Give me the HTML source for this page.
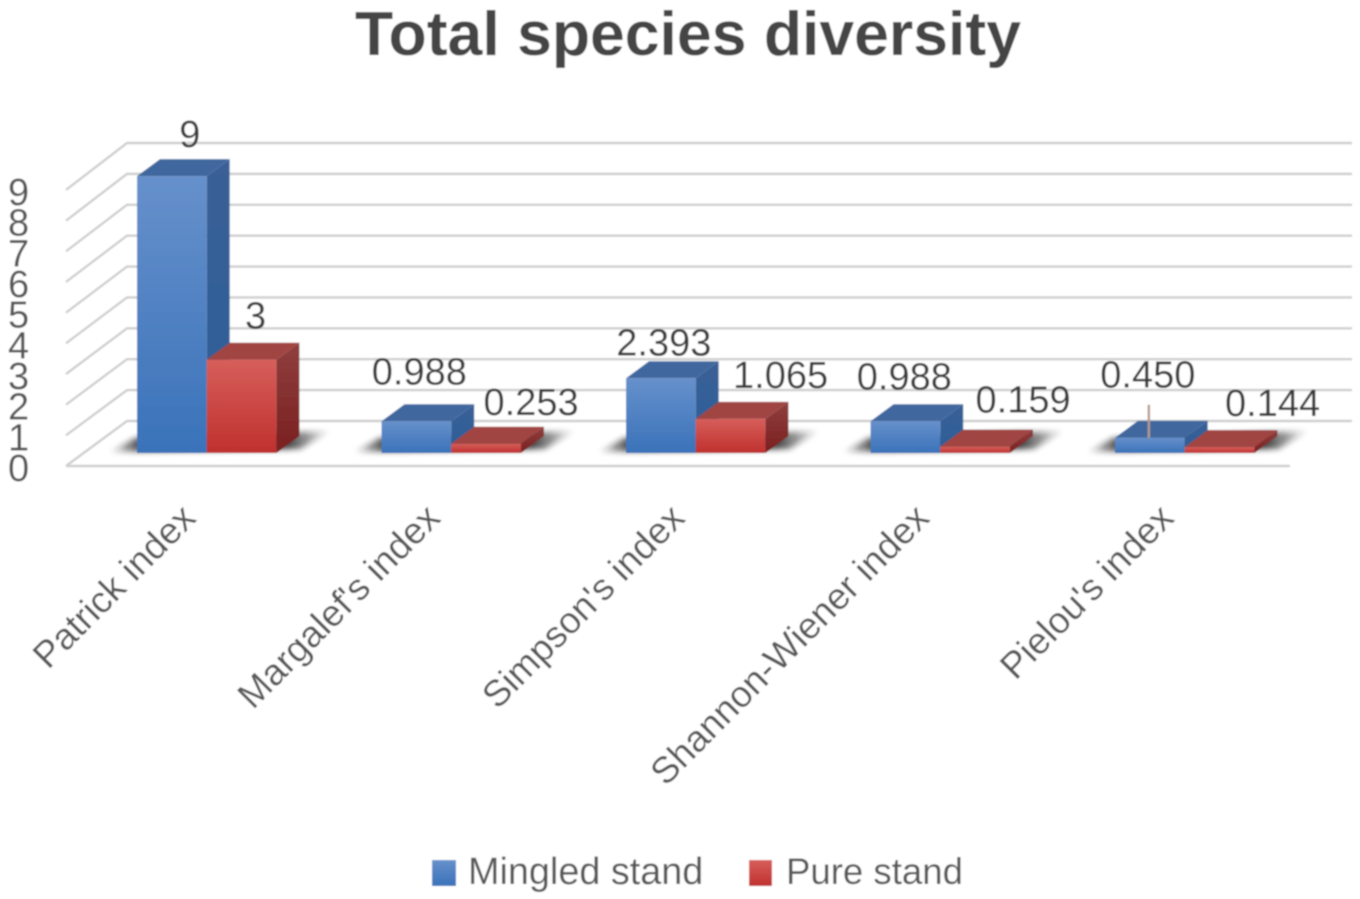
<!DOCTYPE html>
<html lang="en">
<head>
<meta charset="utf-8">
<title>Total species diversity</title>
<style>
html,body{margin:0;padding:0;background:#fff;width:1360px;height:899px;overflow:hidden}
svg{display:block;font-family:"Liberation Sans",sans-serif}
</style>
</head>
<body>
<svg id="chart" xmlns="http://www.w3.org/2000/svg" width="1360" height="899" viewBox="0 0 1360 899">
  <defs>
    <linearGradient id="blueFront" x1="0" y1="0" x2="0" y2="1"><stop offset="0" stop-color="#6690cb"/><stop offset="1" stop-color="#3a72b9"/></linearGradient>
    <linearGradient id="blueSide" x1="0" y1="0" x2="0" y2="1"><stop offset="0" stop-color="#3a6197"/><stop offset="1" stop-color="#2a5c96"/></linearGradient>
    <linearGradient id="redFront" x1="0" y1="0" x2="0" y2="1"><stop offset="0" stop-color="#d65e5a"/><stop offset="1" stop-color="#bf302e"/></linearGradient>
    <linearGradient id="redSide" x1="0" y1="0" x2="0" y2="1"><stop offset="0" stop-color="#8f3f3e"/><stop offset="1" stop-color="#7a1f20"/></linearGradient>
    <linearGradient id="shadowFill" x1="0" y1="0" x2="1" y2="0">
      <stop offset="0" stop-color="#1c1c1c" stop-opacity="0"/>
      <stop offset="0.13" stop-color="#1c1c1c" stop-opacity="0.75"/>
      <stop offset="0.8" stop-color="#1c1c1c" stop-opacity="0.85"/>
      <stop offset="1" stop-color="#1c1c1c" stop-opacity="0"/>
    </linearGradient>
    <filter id="shadowBlur" x="-30%" y="-100%" width="160%" height="300%"><feGaussianBlur stdDeviation="3"/></filter>
    <filter id="soft" x="0" y="0" width="100%" height="100%"><feGaussianBlur stdDeviation="0.7"/></filter>
  </defs>
  <g id="root" filter="url(#soft)">
    <rect x="0" y="0" width="1360" height="899" fill="#ffffff"/>
    <text x="355" y="55" font-size="62" font-weight="700" fill="#444444" textLength="666" lengthAdjust="spacingAndGlyphs">Total species diversity</text>
    <g id="grid"></g>
    <g id="ticks"></g>
    <g id="shadows"></g>
    <g id="bars"></g>
    <g id="values"></g>
    <g id="cats"></g>
    <g>
      <rect x="432" y="860" width="24" height="26" fill="url(#blueFront)"/>
      <text x="468" y="884" font-size="37.8" fill="#565656">Mingled stand</text>
      <rect x="749" y="860" width="23" height="26" fill="url(#redFront)"/>
      <text x="786" y="884" font-size="36.6" fill="#565656">Pure stand</text>
    </g>
  </g>
</svg>
<script>
const categories = ["Patrick index", "Margalef's index", "Simpson's index", "Shannon-Wiener index", "Pielou's index"];
const mingled = [9, 0.988, 2.393, 0.988, 0.45];
const pure = [3, 0.253, 1.065, 0.159, 0.144];
const mingledLabels = ["9", "0.988", "2.393", "0.988", "0.450"];
const pureLabels = ["3", "0.253", "1.065", "0.159", "0.144"];
const yTicks = [0, 1, 2, 3, 4, 5, 6, 7, 8, 9];

/* layout */
const NS = "http://www.w3.org/2000/svg";
const BASE_Y = 453, PLINTH = 1.5, UNIT = 30.6, BAR_W = 69.7, DEPTH_X = 23, DEPTH_Y = 17;
const FIRST_X = 137, STEP_X = 244.5;
const FLOOR_FRONT_Y = 466, FLOOR_BACK_Y = 421, GRID_FRONT_X = 66, GRID_BACK_X = 127, GRID_RIGHT_X = 1352, FLOOR_RIGHT_X = 1290;
const yScale = v => BASE_Y - PLINTH - v * UNIT;
const frontTickY = t => FLOOR_FRONT_Y - t * 30.67;
const backTickY = t => FLOOR_BACK_Y - t * 30.89;
const catX = i => FIRST_X + i * STEP_X;

function mk(tag, attrs, parent) {
  const el = document.createElementNS(NS, tag);
  for (const k in attrs) el.setAttribute(k, attrs[k]);
  parent.appendChild(el);
  return el;
}
const grid = document.getElementById("grid");
const ticksG = document.getElementById("ticks");
const shadows = document.getElementById("shadows");
const barsG = document.getElementById("bars");
const valuesG = document.getElementById("values");
const catsG = document.getElementById("cats");

yTicks.forEach(t => {
  const diag = mk("path", {d: `M${GRID_FRONT_X} ${frontTickY(t)}L${GRID_BACK_X} ${backTickY(t)}L${GRID_RIGHT_X} ${backTickY(t)}`, fill: "none", stroke: "#cfcfcf", "stroke-width": 2.4}, grid);
  
  
  const lab = mk("text", {x: 8, y: frontTickY(t) + 15, "font-size": 38, fill: "#555555"}, ticksG);
  lab.textContent = String(t);
  
  
});
const floorLine = mk("line", {x1: GRID_FRONT_X, y1: FLOOR_FRONT_Y, x2: FLOOR_RIGHT_X, y2: FLOOR_FRONT_Y, stroke: "#cfcfcf", "stroke-width": 2.6}, grid);



function drawBar(x, value, front, side, topC) {
  const yT = yScale(value), r = x + BAR_W;
  const g = mk("g", {}, barsG);
  mk("polygon", {points: `${r},${BASE_Y} ${r + DEPTH_X},${BASE_Y - DEPTH_Y} ${r + DEPTH_X},${yT - DEPTH_Y} ${r},${yT}`, fill: side}, g);
  mk("polygon", {points: `${x},${yT} ${x + DEPTH_X},${yT - DEPTH_Y} ${r + DEPTH_X},${yT - DEPTH_Y} ${r},${yT}`, fill: topC}, g);
  mk("rect", {x: x, y: yT, width: BAR_W, height: BASE_Y - yT, fill: front}, g);
  return g;
}

categories.forEach((name, i) => {
  const x = catX(i), xEnd = x + 2 * BAR_W;
  const sh = mk("polygon", {points: `${x - 28},${BASE_Y - 1} ${x - 2},${BASE_Y - 15} ${xEnd + 54},${BASE_Y - 22} ${xEnd + 24},${BASE_Y - 4}`, fill: "url(#shadowFill)", filter: "url(#shadowBlur)"}, shadows);
  
  

  const b1 = drawBar(x, mingled[i], "url(#blueFront)", "url(#blueSide)", "#3f679f");
  
  
  const b2 = drawBar(x + BAR_W, pure[i], "url(#redFront)", "url(#redSide)", "#a04543");
  
  

  const c = mk("text", {"text-anchor": "end", "font-size": 37, fill: "#565656", transform: `translate(${x + 60.5} 520) rotate(-45.2)`}, catsG);
  c.textContent = name;
  
  
});

/* per-label placement tweaks: manually dragged labels in the source chart */
function nudgeMingled(i) { return [[18, -29], [3, -37], [3, -23], [-1, -32], [-2, -50]][i]; }
function nudgePure(i) { return [[14, -31], [45, -29], [50, -31], [48, -34], [53, -31]][i]; }

categories.forEach((name, i) => {
  const x = catX(i);
  const n1 = nudgeMingled(i), n2 = nudgePure(i);
  const t1 = mk("text", {x: x + BAR_W / 2 + n1[0], y: yScale(mingled[i]) + n1[1], "text-anchor": "middle", "font-size": 38, fill: "#3a3a3a"}, valuesG);
  t1.textContent = mingledLabels[i];
  
  
  const t2 = mk("text", {x: x + 1.5 * BAR_W + n2[0], y: yScale(pure[i]) + n2[1], "text-anchor": "middle", "font-size": 38, fill: "#3a3a3a"}, valuesG);
  t2.textContent = pureLabels[i];
  
  
});

/* leader line for the last mingled label */
const lastI = categories.length - 1;
const leader = mk("line", {x1: catX(lastI) + BAR_W / 2 - 1, y1: yScale(mingled[lastI]) - 33, x2: catX(lastI) + BAR_W / 2 - 1, y2: yScale(mingled[lastI]), stroke: "#b59a8e", "stroke-width": 2.4}, valuesG);


</script>
</body>
</html>
